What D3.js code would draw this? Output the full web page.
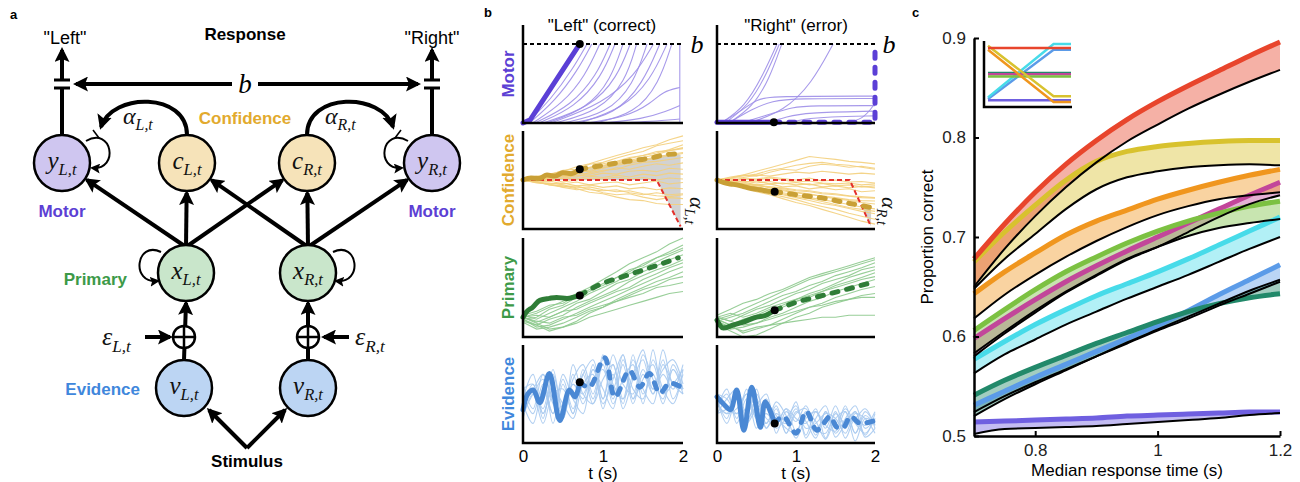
<!DOCTYPE html>
<html>
<head>
<meta charset="utf-8">
<script src="https://cdn.jsdelivr.net/npm/d3@7"></script>
<style>
  body { margin: 0; background: #fff; }
  svg { display: block; }
</style>
</head>
<body>
<svg id="fig" width="1300" height="482"></svg>
<script>
// ---------- data ----------

// panel b: time grids (s)
const tCoarse = [0, 0.17, 0.33, 0.5, 0.67, 0.83, 1, 1.17, 1.33, 1.5, 1.67, 1.83, 2];
const tFine = [0, 0.125, 0.25, 0.375, 0.5, 0.625, 0.75, 0.875, 1, 1.125, 1.25, 1.375, 1.5, 1.625, 1.75, 1.875, 2];

// motor traces as [t, activity] pairs (threshold b = 1)
const motorLeftThin = [
  [[0.05,0],[0.35,0.3],[0.62,0.68],[0.8,1]],
  [[0.08,0],[0.4,0.28],[0.68,0.66],[0.86,1]],
  [[0.12,0],[0.5,0.25],[0.78,0.6],[0.96,1]],
  [[0.15,0],[0.6,0.22],[0.92,0.6],[1.09,1]],
  [[0.2,0],[0.65,0.2],[0.98,0.58],[1.15,1]],
  [[0.3,0],[0.8,0.18],[1.1,0.55],[1.25,1]],
  [[0.25,0],[0.85,0.2],[1.18,0.58],[1.34,1]],
  [[0.4,0],[0.95,0.15],[1.28,0.52],[1.42,1]],
  [[0.5,0],[1.05,0.12],[1.38,0.48],[1.55,1]],
  [[0.35,0],[1.0,0.25],[1.4,0.6],[1.63,1]],
  [[0.6,0],[1.15,0.1],[1.5,0.5],[1.71,1]],
  [[0.7,0],[1.25,0.18],[1.6,0.55],[1.8,1]],
  [[0.9,0],[1.4,0.12],[1.7,0.5],[1.86,1]],
  [[0.8,0],[1.3,0.08],[1.6,0.25],[1.75,0.4],[1.96,0.45]],
  [[1.0,0],[1.5,0.05],[1.8,0.15],[1.96,0.22]],
  [[1.2,0],[1.6,0.02],[1.96,0.05]],
  [[1.96,0],[1.96,1]]
];
const motorLeftThick = [[0,0],[0.09,0.04],[0.71,1]];
const motorLeftDash = [];
const motorRightThin = [
  [[0.05,0],[0.35,0.2],[0.58,0.6],[0.76,1]],
  [[0.1,0],[0.4,0.22],[0.62,0.6],[0.79,1]],
  [[0.15,0],[0.45,0.2],[0.66,0.55],[0.82,1]],
  [[0.4,0],[0.85,0.15],[1.2,0.5],[1.47,1]],
  [[0.05,0],[0.3,0.15],[0.5,0.3],[0.7,0.34],[2.0,0.34]],
  [[0.15,0],[0.45,0.18],[0.7,0.28],[1.0,0.31],[2.0,0.31]],
  [[0.3,0],[0.7,0.12],[0.95,0.2],[1.2,0.22],[2.0,0.22]],
  [[0.6,0],[0.9,0.08],[1.1,0.13],[2.0,0.15]],
  [[0.9,0],[1.1,0.05],[1.4,0.08],[2.0,0.09]],
  [[1.6,0],[1.85,0.04],[2.0,0.25]]
];
const motorRightThick = [[0,0.01],[0.72,0.01]];
const motorRightDash = [[0.72,0.01],[2,0.01],[2,1]];

// confidence (values on tCoarse)
const confLeftThin = [
  [0, 0.05, 0.12, 0.18, 0.27, 0.33, 0.42, 0.5, 0.57, 0.66, 0.72, 0.82, 0.9],
  [0, 0.08, 0.1, 0.2, 0.22, 0.32, 0.36, 0.45, 0.52, 0.58, 0.7, 0.75, 0.8],
  [0, 0.03, 0.09, 0.14, 0.2, 0.25, 0.33, 0.38, 0.46, 0.5, 0.58, 0.6, 0.66],
  [0, 0.06, 0.05, 0.12, 0.18, 0.17, 0.25, 0.32, 0.38, 0.42, 0.47, 0.52, 0.56],
  [0, -0.03, 0.04, 0.08, 0.06, 0.15, 0.2, 0.22, 0.3, 0.36, 0.38, 0.42, 0.46],
  [0, 0.04, 0.02, 0.08, 0.14, 0.12, 0.18, 0.25, 0.22, 0.28, 0.33, 0.3, 0.35],
  [0, -0.02, 0.05, 0.03, 0.1, 0.08, 0.14, 0.12, 0.18, 0.2, 0.17, 0.24, 0.22],
  [0, 0.02, -0.03, 0.04, 0.02, 0.08, 0.05, 0.1, 0.06, 0.12, 0.09, 0.14, 0.12],
  [0, -0.04, -0.02, -0.08, -0.04, -0.1, -0.06, -0.04, -0.1, -0.06, -0.02, -0.08, -0.05],
  [0, -0.05, -0.08, -0.06, -0.12, -0.1, -0.15, -0.12, -0.18, -0.15, -0.2, -0.16, -0.18],
  [0, -0.04, -0.1, -0.14, -0.12, -0.2, -0.22, -0.2, -0.26, -0.3, -0.26, -0.3, -0.28],
  [0, -0.06, -0.08, -0.15, -0.2, -0.18, -0.26, -0.3, -0.28, -0.35, -0.4, -0.36, -0.38],
  [0, -0.03, -0.1, -0.12, -0.18, -0.25, -0.28, -0.35, -0.4, -0.42, -0.48, -0.5, -0.5],
  [0, 0.05, 0.1, 0.13, 0.2, 0.26, 0.3, 0.36, 0.44, 0.5, 0.55, 0.62, 0.72],
  [0, 0.03, 0.08, 0.06, 0.14, 0.2, 0.24, 0.3, 0.34, 0.4, 0.44, 0.5, 0.54],
  [0, -0.02, 0.02, -0.04, 0.0, 0.04, 0.02, 0.06, 0.02, 0.05, 0.0, 0.04, 0.02],
  [0, 0.04, 0.08, 0.14, 0.16, 0.24, 0.28, 0.34, 0.4, 0.46, 0.52, 0.6, 0.64],
  [0, -0.05, -0.06, -0.1, -0.16, -0.14, -0.2, -0.24, -0.22, -0.28, -0.32, -0.34, -0.3]
];
const confLeftThick = [[0,0],[0.1,0.04],[0.2,0.03],[0.3,0.1],[0.4,0.08],[0.5,0.15],[0.6,0.13],[0.71,0.22]];
const confLeftDash = [[0.71,0.22],[1.0,0.3],[1.3,0.38],[1.6,0.45],[1.8,0.52],[1.92,0.53],[2.0,0.49]];
const alphaLeft = [[0,0],[1.67,0],[1.97,-0.95]];
const confRightThin = [
  [0, 0.06, 0.1, 0.18, 0.25, 0.32, 0.4, 0.48, 0.45, 0.42, 0.38, 0.36, 0.33],
  [0, 0.04, 0.1, 0.08, 0.16, 0.22, 0.2, 0.28, 0.32, 0.3, 0.26, 0.28, 0.24],
  [0, 0.03, 0.05, 0.1, 0.08, 0.12, 0.16, 0.14, 0.18, 0.15, 0.12, 0.14, 0.12],
  [0, -0.02, 0.04, 0.02, 0.06, 0.03, 0.0, 0.04, -0.02, 0.0, -0.04, -0.03, -0.06],
  [0, -0.04, -0.02, -0.06, -0.03, -0.08, -0.05, -0.1, -0.07, -0.12, -0.1, -0.14, -0.12],
  [0, 0.02, -0.04, -0.02, -0.08, -0.06, -0.1, -0.08, -0.14, -0.12, -0.16, -0.13, -0.16],
  [0, -0.05, -0.04, -0.1, -0.08, -0.14, -0.12, -0.18, -0.15, -0.2, -0.18, -0.24, -0.22],
  [0, -0.04, -0.08, -0.12, -0.14, -0.18, -0.22, -0.24, -0.28, -0.3, -0.33, -0.36, -0.37],
  [0, -0.06, -0.1, -0.14, -0.2, -0.22, -0.26, -0.3, -0.32, -0.36, -0.4, -0.42, -0.43],
  [0, -0.03, -0.08, -0.1, -0.16, -0.2, -0.25, -0.28, -0.34, -0.38, -0.42, -0.46, -0.49],
  [0, -0.05, -0.1, -0.16, -0.2, -0.26, -0.3, -0.36, -0.4, -0.45, -0.5, -0.55, -0.59],
  [0, -0.04, -0.12, -0.18, -0.24, -0.3, -0.36, -0.42, -0.48, -0.52, -0.58, -0.64, -0.69],
  [0, -0.07, -0.14, -0.2, -0.28, -0.34, -0.4, -0.48, -0.54, -0.6, -0.68, -0.74, -0.8],
  [0, -0.06, -0.14, -0.24, -0.3, -0.38, -0.46, -0.52, -0.6, -0.68, -0.76, -0.84, -0.9],
  [0, 0.04, 0.08, 0.12, 0.2, 0.24, 0.3, 0.34, 0.36, 0.32, 0.3, 0.26, 0.22],
  [0, -0.02, 0.02, 0.0, 0.04, 0.0, -0.04, -0.02, -0.06, -0.08, -0.06, -0.1, -0.08],
  [0, -0.04, -0.08, -0.1, -0.14, -0.16, -0.2, -0.22, -0.26, -0.28, -0.32, -0.34, -0.36],
  [0, -0.05, -0.12, -0.16, -0.22, -0.28, -0.34, -0.38, -0.44, -0.5, -0.56, -0.6, -0.64]
];
const confRightThick = [[0,0],[0.08,-0.05],[0.17,-0.08],[0.25,-0.1],[0.35,-0.14],[0.45,-0.18],[0.55,-0.2],[0.65,-0.23],[0.73,-0.24]];
const confRightDash = [[0.73,-0.24],[1.0,-0.3],[1.34,-0.37],[1.68,-0.48],[1.85,-0.53],[2.0,-0.58]];
const alphaRight = [[0,0],[1.68,0],[1.95,-0.95]];

// primary (values on tCoarse)
const primLeftThin = [
  [0.2, 0.24, 0.3, 0.36, 0.44, 0.5, 0.58, 0.66, 0.74, 0.8, 0.86, 0.94, 1.0],
  [0.18, 0.2, 0.28, 0.32, 0.4, 0.48, 0.52, 0.6, 0.66, 0.74, 0.8, 0.86, 0.93],
  [0.22, 0.18, 0.24, 0.3, 0.36, 0.44, 0.5, 0.56, 0.64, 0.7, 0.76, 0.82, 0.88],
  [0.2, 0.15, 0.2, 0.26, 0.34, 0.38, 0.46, 0.54, 0.58, 0.66, 0.72, 0.78, 0.83],
  [0.16, 0.12, 0.18, 0.22, 0.3, 0.36, 0.42, 0.48, 0.56, 0.62, 0.68, 0.72, 0.78],
  [0.2, 0.22, 0.2, 0.26, 0.28, 0.34, 0.4, 0.46, 0.5, 0.58, 0.64, 0.7, 0.75],
  [0.18, 0.1, 0.12, 0.18, 0.24, 0.3, 0.36, 0.42, 0.48, 0.54, 0.6, 0.66, 0.71],
  [0.2, 0.14, 0.08, 0.1, 0.16, 0.24, 0.3, 0.38, 0.44, 0.5, 0.56, 0.6, 0.66],
  [0.15, 0.08, 0.1, 0.14, 0.2, 0.26, 0.3, 0.36, 0.42, 0.48, 0.52, 0.58, 0.61],
  [0.2, 0.16, 0.14, 0.2, 0.22, 0.28, 0.32, 0.36, 0.4, 0.44, 0.5, 0.52, 0.55],
  [0.18, 0.12, 0.06, 0.1, 0.14, 0.2, 0.24, 0.28, 0.32, 0.36, 0.4, 0.44, 0.46],
  [0.22, 0.26, 0.32, 0.34, 0.42, 0.46, 0.54, 0.6, 0.68, 0.72, 0.8, 0.84, 0.9]
];
const primLeftThick = [[0,0.2],[0.04,0.25],[0.12,0.3],[0.21,0.37],[0.33,0.39],[0.42,0.4],[0.55,0.39],[0.71,0.42]];
const primLeftDash = [[0.71,0.42],[0.96,0.53],[1.25,0.61],[1.59,0.7],[1.94,0.8]];
const primRightThin = [
  [0.18, 0.22, 0.28, 0.34, 0.4, 0.46, 0.52, 0.58, 0.62, 0.66, 0.7, 0.74, 0.78],
  [0.16, 0.2, 0.24, 0.3, 0.36, 0.42, 0.46, 0.52, 0.56, 0.62, 0.66, 0.7, 0.75],
  [0.2, 0.16, 0.22, 0.28, 0.32, 0.38, 0.44, 0.48, 0.54, 0.58, 0.62, 0.68, 0.71],
  [0.14, 0.1, 0.16, 0.2, 0.26, 0.32, 0.38, 0.44, 0.48, 0.54, 0.6, 0.64, 0.68],
  [0.18, 0.12, 0.18, 0.22, 0.28, 0.3, 0.36, 0.4, 0.46, 0.52, 0.56, 0.6, 0.65],
  [0.2, 0.24, 0.2, 0.24, 0.3, 0.34, 0.38, 0.42, 0.46, 0.5, 0.54, 0.58, 0.61],
  [0.15, 0.08, 0.1, 0.14, 0.2, 0.24, 0.3, 0.36, 0.4, 0.46, 0.5, 0.54, 0.58],
  [0.18, 0.12, 0.04, 0.08, 0.12, 0.18, 0.24, 0.3, 0.34, 0.4, 0.44, 0.48, 0.51],
  [0.12, 0.06, 0.0, 0.02, 0.08, 0.14, 0.2, 0.24, 0.3, 0.34, 0.38, 0.42, 0.44],
  [0.2, 0.16, 0.12, 0.14, 0.18, 0.22, 0.26, 0.3, 0.32, 0.36, 0.38, 0.4, 0.4],
  [0.16, 0.1, 0.06, 0.1, 0.12, 0.14, 0.16, 0.18, 0.2, 0.2, 0.22, 0.22, 0.22],
  [0.22, 0.28, 0.34, 0.38, 0.44, 0.48, 0.54, 0.6, 0.64, 0.68, 0.72, 0.76, 0.8]
];
const primRightThick = [[0,0.17],[0.08,0.09],[0.2,0.12],[0.33,0.15],[0.5,0.2],[0.62,0.22],[0.73,0.27]];
const primRightDash = [[0.73,0.27],[1.0,0.35],[1.34,0.42],[1.68,0.49],[2.0,0.56]];

// evidence (values on tFine)
const evidLeftThin = [
  [0.45, 0.7, 0.3, 0.6, 0.25, 0.65, 0.8, 0.5, 0.85, 0.55, 0.9, 0.45, 0.75, 0.55, 0.85, 0.45, 0.7],
  [0.4, 0.2, 0.55, 0.3, 0.65, 0.35, 0.7, 0.85, 0.45, 0.8, 0.45, 0.85, 0.55, 0.4, 0.8, 0.6, 0.5],
  [0.55, 0.6, 0.25, 0.7, 0.35, 0.6, 0.5, 0.75, 0.45, 0.9, 0.6, 0.5, 0.9, 0.65, 0.45, 0.8, 0.55],
  [0.3, 0.5, 0.65, 0.2, 0.6, 0.3, 0.75, 0.45, 0.8, 0.4, 0.65, 0.8, 0.4, 0.85, 0.55, 0.4, 0.75],
  [0.6, 0.35, 0.7, 0.45, 0.3, 0.7, 0.4, 0.65, 0.75, 0.45, 0.8, 0.4, 0.7, 0.5, 0.95, 0.6, 0.55],
  [0.4, 0.55, 0.35, 0.75, 0.3, 0.6, 0.45, 0.8, 0.35, 0.7, 0.4, 0.9, 0.5, 0.7, 0.4, 0.75, 0.5],
  [0.25, 0.5, 0.2, 0.5, 0.55, 0.3, 0.7, 0.4, 0.65, 0.8, 0.35, 0.65, 0.85, 0.5, 0.7, 0.55, 0.8],
  [0.5, 0.3, 0.6, 0.3, 0.7, 0.45, 0.3, 0.75, 0.55, 0.35, 0.85, 0.55, 0.45, 0.95, 0.5, 0.75, 0.55],
  [0.45, 0.55, 0.7, 0.4, 0.25, 0.8, 0.5, 0.4, 0.9, 0.6, 0.45, 0.7, 0.95, 0.55, 0.75, 0.85, 0.6],
  [0.35, 0.6, 0.3, 0.55, 0.4, 0.25, 0.6, 0.7, 0.4, 0.65, 0.9, 0.45, 0.65, 0.8, 0.5, 0.6, 0.75]
];
const evidLeftThick = [[0,0.34],[0.06,0.5],[0.13,0.54],[0.21,0.41],[0.33,0.71],[0.46,0.23],[0.58,0.54],[0.65,0.47],[0.71,0.62]];
const evidLeftDash = [[0.71,0.62],[0.83,0.57],[1.02,0.87],[1.15,0.47],[1.33,0.74],[1.46,0.57],[1.58,0.71],[1.71,0.51],[1.83,0.61],[1.98,0.57]];
const evidRightThin = [
  [0.45, 0.25, 0.55, 0.3, 0.5, 0.25, 0.2, 0.35, 0.12, 0.3, 0.08, 0.32, 0.15, 0.38, 0.1, 0.28, 0.18],
  [0.35, 0.5, 0.25, 0.55, 0.25, 0.45, 0.15, 0.25, 0.38, 0.08, 0.32, 0.15, 0.38, 0.15, 0.32, 0.08, 0.3],
  [0.4, 0.3, 0.5, 0.2, 0.45, 0.2, 0.38, 0.1, 0.32, 0.22, 0.05, 0.32, 0.1, 0.25, 0.38, 0.15, 0.25],
  [0.5, 0.35, 0.3, 0.5, 0.15, 0.4, 0.28, 0.15, 0.1, 0.32, 0.22, 0.04, 0.25, 0.32, 0.1, 0.32, 0.18],
  [0.3, 0.45, 0.55, 0.25, 0.38, 0.5, 0.1, 0.32, 0.22, 0.38, 0.15, 0.1, 0.32, 0.05, 0.25, 0.18, 0.32],
  [0.45, 0.2, 0.45, 0.28, 0.55, 0.15, 0.3, 0.22, 0.42, 0.05, 0.25, 0.38, 0.06, 0.2, 0.32, 0.06, 0.15],
  [0.35, 0.55, 0.2, 0.45, 0.28, 0.2, 0.42, 0.28, 0.05, 0.25, 0.32, 0.18, 0.12, 0.32, 0.02, 0.25, 0.2],
  [0.4, 0.3, 0.35, 0.5, 0.25, 0.3, 0.2, 0.35, 0.25, 0.2, 0.35, 0.05, 0.3, 0.2, 0.25, 0.35, 0.15],
  [0.5, 0.45, 0.3, 0.35, 0.4, 0.15, 0.35, 0.1, 0.3, 0.35, 0.15, 0.25, 0.2, 0.35, 0.2, 0.1, 0.25],
  [0.3, 0.35, 0.45, 0.2, 0.35, 0.4, 0.25, 0.2, 0.35, 0.15, 0.2, 0.3, 0.25, 0.1, 0.3, 0.25, 0.1]
];
const evidRightThick = [[0,0.47],[0.08,0.4],[0.17,0.34],[0.25,0.54],[0.34,0.13],[0.44,0.57],[0.55,0.16],[0.61,0.42],[0.73,0.2]];
const evidRightDash = [[0.73,0.2],[0.84,0.27],[1.0,0.1],[1.13,0.32],[1.26,0.13],[1.35,0.2],[1.43,0.27],[1.52,0.16],[1.6,0.16],[1.69,0.27],[1.81,0.2],[2.0,0.23]];

// panel c: proportion correct vs median RT
const conditions = ["red", "yellow", "orange", "lime", "magenta", "cyan", "darkgreen", "blue", "purple"];
const rtGrid = [0.7, 0.75, 0.8, 0.85, 0.9, 0.95, 1.0, 1.05, 1.1, 1.15, 1.2];
const pcColoured = [
  [0.678, 0.713, 0.745, 0.773, 0.797, 0.818, 0.836, 0.852, 0.867, 0.882, 0.896],
  [0.675, 0.705, 0.732, 0.757, 0.776, 0.786, 0.791, 0.794, 0.796, 0.797, 0.797],
  [0.643, 0.665, 0.684, 0.702, 0.716, 0.727, 0.738, 0.747, 0.755, 0.762, 0.768],
  [0.606, 0.627, 0.647, 0.665, 0.68, 0.694, 0.706, 0.716, 0.724, 0.731, 0.736],
  [0.598, 0.618, 0.637, 0.655, 0.671, 0.686, 0.7, 0.714, 0.728, 0.742, 0.755],
  [0.577, 0.595, 0.612, 0.627, 0.641, 0.653, 0.665, 0.678, 0.692, 0.706, 0.72],
  [0.541, 0.556, 0.569, 0.581, 0.593, 0.604, 0.615, 0.625, 0.633, 0.639, 0.643],
  [0.531, 0.545, 0.559, 0.572, 0.585, 0.598, 0.611, 0.626, 0.642, 0.657, 0.672],
  [0.514, 0.515, 0.516, 0.517, 0.518, 0.52, 0.521, 0.522, 0.523, 0.524, 0.524]
];
const pcBlack = [
  [0.65, 0.688, 0.721, 0.75, 0.775, 0.796, 0.813, 0.829, 0.843, 0.856, 0.868],
  [0.648, 0.678, 0.703, 0.728, 0.748, 0.76, 0.766, 0.77, 0.772, 0.773, 0.772],
  [0.618, 0.642, 0.662, 0.68, 0.696, 0.71, 0.722, 0.731, 0.738, 0.742, 0.745],
  [0.583, 0.605, 0.626, 0.645, 0.662, 0.678, 0.69, 0.701, 0.709, 0.714, 0.718],
  [0.58, 0.603, 0.624, 0.644, 0.661, 0.677, 0.69, 0.705, 0.72, 0.733, 0.742],
  [0.563, 0.582, 0.597, 0.612, 0.625, 0.638, 0.65, 0.662, 0.675, 0.688, 0.7],
  [0.52, 0.537, 0.552, 0.566, 0.58, 0.594, 0.607, 0.62, 0.633, 0.646, 0.657],
  [0.524, 0.54, 0.554, 0.567, 0.58, 0.593, 0.606, 0.618, 0.631, 0.643, 0.655],
  [0.502, 0.507, 0.508, 0.509, 0.51, 0.512, 0.514, 0.516, 0.518, 0.521, 0.523]
];
// inset: normalised level before and after the switch
const insetBefore = [0.93, 0.97, 0.9, 0.44, 0.48, 0.08, 0.5, 0.05, 0.03];
const insetAfter = [0.93, 0.1, 0.0, 0.44, 0.48, 1.0, 0.5, 0.9, 0.03];
const insetSteps = [0, 0.79, 1];

// ---------- styles ----------
const SANS = "'Liberation Sans', Arial, Helvetica, sans-serif";
const SERIF = "'Liberation Serif', 'DejaVu Serif', serif";
const condColor = {
  red: "#e8452c", yellow: "#d8c22e", orange: "#f0961e", lime: "#7cc142", magenta: "#c2469a",
  cyan: "#47dbe9", darkgreen: "#22896a", blue: "#5b9be8", purple: "#6f5fe0"
};
const rowStyle = {
  motor: { thin: "#9d8ee8", thick: "#5b3fd6", label: "Motor" },
  conf: { thin: "#f3cf7c", thick: "#c9a036", label: "Confidence" },
  prim: { thin: "#8dc98d", thick: "#2f7d37", label: "Primary" },
  evid: { thin: "#a9caef", thick: "#4a88d4", label: "Evidence" }
};
const labelColor = { motor: "#5c3fd4", conf: "#e2aa2e", prim: "#3d9a48", evid: "#3f87dc" };

const svg = d3.select("#fig");
svg.append("rect").attr("width", 1300).attr("height", 482).attr("fill", "#fff");
const defs = svg.append("defs");

function marker(id, size) {
  defs.append("marker")
    .attr("id", id)
    .attr("viewBox", "0 0 10 10")
    .attr("refX", 8).attr("refY", 5)
    .attr("markerWidth", size).attr("markerHeight", size)
    .attr("markerUnits", "userSpaceOnUse")
    .attr("orient", "auto")
    .append("path").attr("d", "M0,0 L10,5 L0,10 L2,5 z").attr("fill", "#000");
}
marker("arr", 15);
marker("arrS", 10);

function mathText(g, x, y, main, sub, size, anchor = "middle") {
  const t = g.append("text")
    .attr("x", x).attr("y", y)
    .attr("text-anchor", anchor)
    .attr("font-family", SERIF)
    .attr("font-style", "italic")
    .attr("font-size", size)
    .attr("fill", "#111");
  t.append("tspan").text(main);
  t.append("tspan").attr("font-size", size * 0.66).attr("dy", size * 0.25).text(sub);
  return t;
}

function plainText(g, x, y, str, size, opts = {}) {
  return g.append("text")
    .attr("x", x).attr("y", y)
    .attr("text-anchor", opts.anchor || "middle")
    .attr("font-family", SANS)
    .attr("font-size", size)
    .attr("font-weight", opts.bold ? "bold" : "normal")
    .attr("fill", opts.color || "#000")
    .text(str);
}

// ---------- panel a ----------
const A = svg.append("g");
plainText(A, 10, 19, "a", 13, { anchor: "start", bold: true });

const R = 28;
const nodes = {
  yL: { x: 62, y: 163, fill: "#cfc6f0", main: "y", sub: "L,t" },
  cL: { x: 187, y: 163, fill: "#f6e3b9", main: "c", sub: "L,t" },
  cR: { x: 307, y: 163, fill: "#f6e3b9", main: "c", sub: "R,t" },
  yR: { x: 432, y: 163, fill: "#cfc6f0", main: "y", sub: "R,t" },
  xL: { x: 186, y: 273, fill: "#c9e6cb", main: "x", sub: "L,t" },
  xR: { x: 308, y: 273, fill: "#c9e6cb", main: "x", sub: "R,t" },
  vL: { x: 184, y: 388, fill: "#bcd5f3", main: "ν", sub: "L,t" },
  vR: { x: 308, y: 388, fill: "#bcd5f3", main: "ν", sub: "R,t" }
};

function line(g, x1, y1, x2, y2, w, mk) {
  const l = g.append("line")
    .attr("x1", x1).attr("y1", y1).attr("x2", x2).attr("y2", y2)
    .attr("stroke", "#000").attr("stroke-width", w);
  if (mk) l.attr("marker-end", `url(#${mk})`);
  return l;
}
function edge(from, n, pad = 2) {
  const dx = from[0] - n.x, dy = from[1] - n.y;
  const d = Math.hypot(dx, dy);
  return [n.x + dx / d * (R + pad), n.y + dy / d * (R + pad)];
}

// primary -> motor / confidence
[["xL", ["yL", "cL", "cR"]], ["xR", ["cL", "cR", "yR"]]].forEach(([src, targets]) => {
  const s = [nodes[src].x, nodes[src].y - R + 2];
  targets.forEach(t => {
    const e = edge(s, nodes[t]);
    line(A, s[0], s[1], e[0], e[1], 4, "arr");
  });
});

// evidence -> sum -> primary
["L", "R"].forEach(side => {
  const v = nodes["v" + side], x = nodes["x" + side];
  line(A, v.x, v.y - R, x.x, x.y + R + 2, 4, "arr");
});

// response outputs with gates
[nodes.yL, nodes.yR].forEach(n => {
  line(A, n.x, n.y - R, n.x, 88, 4);
  line(A, n.x, 80, n.x, 50, 4, "arr");
  line(A, n.x - 8, 88, n.x + 8, 88, 3);
  line(A, n.x - 8, 80, n.x + 8, 80, 3);
});

// b double arrow
line(A, 232, 84, 76, 84, 4, "arr");
line(A, 258, 84, 418, 84, 4, "arr");
A.append("text").attr("x", 245).attr("y", 93).attr("text-anchor", "middle")
  .attr("font-family", SERIF).attr("font-style", "italic").attr("font-size", 27).text("b");

// confidence -> motor arcs
A.append("path").attr("d", "M187,135 C187,92 112,92 101,127")
  .attr("fill", "none").attr("stroke", "#000").attr("stroke-width", 4).attr("marker-end", "url(#arr)");
A.append("path").attr("d", "M307,135 C307,92 382,92 393,127")
  .attr("fill", "none").attr("stroke", "#000").attr("stroke-width", 4).attr("marker-end", "url(#arr)");
mathText(A, 123, 124, "α", "L,t", 24, "start");
mathText(A, 325, 124, "α", "R,t", 24, "start");

// self loops
const loops = [
  "M86,141 C112,126 120,170 92,168",
  "M408,141 C382,126 374,170 402,168",
  "M161,252 C136,240 130,284 158,281",
  "M333,252 C358,240 364,284 336,281"
];
loops.forEach(d => A.append("path").attr("d", d).attr("fill", "none")
  .attr("stroke", "#000").attr("stroke-width", 2).attr("marker-end", "url(#arrS)"));
// gates on motor loops
line(A, 93, 130, 99, 138, 1.5);
line(A, 401, 130, 395, 138, 1.5);

// stimulus
line(A, 247, 448, 209, 410, 4, "arr");
line(A, 247, 448, 285, 410, 4, "arr");

// noise inputs
line(A, 145, 337, 170, 337, 4, "arr");
line(A, 349, 337, 324, 337, 4, "arr");
mathText(A, 102, 345, "ε", "L,t", 26, "start");
mathText(A, 355, 345, "ε", "R,t", 26, "start");

// sum nodes
[nodes.vL, nodes.vR].forEach(v => {
  const cy = 337;
  A.append("circle").attr("cx", v.x).attr("cy", cy).attr("r", 11)
    .attr("fill", "#fff").attr("stroke", "#000").attr("stroke-width", 2.5);
  line(A, v.x - 11, cy, v.x + 11, cy, 2.5);
  line(A, v.x, cy - 11, v.x, cy + 11, 2.5);
});

// nodes
Object.values(nodes).forEach(n => {
  A.append("circle").attr("cx", n.x).attr("cy", n.y).attr("r", R)
    .attr("fill", n.fill).attr("stroke", "#000").attr("stroke-width", 2.5);
  mathText(A, n.x, n.y + 6, n.main, n.sub, 25);
});

plainText(A, 65, 44, "\"Left\"", 18);
plainText(A, 432, 44, "\"Right\"", 18);
plainText(A, 245, 40, "Response", 17, { bold: true });
plainText(A, 245, 124, "Confidence", 17, { bold: true, color: labelColor.conf });
plainText(A, 62, 217, "Motor", 17, { bold: true, color: labelColor.motor });
plainText(A, 432, 217, "Motor", 17, { bold: true, color: labelColor.motor });
plainText(A, 127, 285, "Primary", 17, { bold: true, color: labelColor.prim, anchor: "end" });
plainText(A, 140, 395, "Evidence", 17, { bold: true, color: labelColor.evid, anchor: "end" });
plainText(A, 247, 467, "Stimulus", 17, { bold: true });

// ---------- panel b ----------
const B = svg.append("g");
plainText(B, 484, 17, "b", 13, { anchor: "start", bold: true });

const bCols = [{ x0: 523, x1: 683 }, { x0: 717, x1: 875 }];
const bRows = [
  { key: "motor", top: 25, bottom: 123, domain: [0, 1.24] },
  { key: "conf", top: 131, bottom: 229, domain: [-1, 1] },
  { key: "prim", top: 238, bottom: 337, domain: [0, 1] },
  { key: "evid", top: 345, bottom: 443, domain: [0, 1] }
];

const cellData = {
  motor: [
    { pairs: motorLeftThin, thick: motorLeftThick, dash: motorLeftDash, dot: [0.71, 1] },
    { pairs: motorRightThin, thick: motorRightThick, dash: motorRightDash, dot: [0.72, 0.01] }
  ],
  conf: [
    { values: confLeftThin, t: tCoarse, thick: confLeftThick, dash: confLeftDash, dot: [0.71, 0.22], alpha: alphaLeft },
    { values: confRightThin, t: tCoarse, thick: confRightThick, dash: confRightDash, dot: [0.73, -0.24], alpha: alphaRight }
  ],
  prim: [
    { values: primLeftThin, t: tCoarse, thick: primLeftThick, dash: primLeftDash, dot: [0.71, 0.42] },
    { values: primRightThin, t: tCoarse, thick: primRightThick, dash: primRightDash, dot: [0.73, 0.27] }
  ],
  evid: [
    { values: evidLeftThin, t: tFine, thick: evidLeftThick, dash: evidLeftDash, dot: [0.71, 0.62] },
    { values: evidRightThin, t: tFine, thick: evidRightThick, dash: evidRightDash, dot: [0.73, 0.2] }
  ]
};

const curveFor = { motor: d3.curveBasis, conf: d3.curveLinear, prim: d3.curveLinear, evid: d3.curveCatmullRom.alpha(0.5) };
const thickCurveFor = { motor: d3.curveLinear, conf: d3.curveMonotoneX, prim: d3.curveMonotoneX, evid: d3.curveCatmullRom.alpha(0.5) };

bCols.forEach((col, ci) => {
  const x = d3.scaleLinear().domain([0, 2]).range([col.x0, col.x1]);
  bRows.forEach((row, ri) => {
    const y = d3.scaleLinear().domain(row.domain).range([row.bottom, row.top]);
    const st = rowStyle[row.key];
    const cd = cellData[row.key][ci];
    const g = B.append("g");
    const ln = d3.line().x(d => x(d[0])).y(d => y(d[1]));

    if (cd.alpha) {
      const id = `clip-alpha-${ci}`;
      defs.append("clipPath").attr("id", id).append("path")
        .attr("d", d3.area().x(d => x(d[0])).y0(row.top - 5).y1(d => y(d[1]))(cd.alpha));
      const all = cd.thick.concat(cd.dash.slice(1));
      g.append("path").attr("clip-path", `url(#${id})`).attr("fill", "#d2d2d2")
        .attr("d", d3.area().x(d => x(d[0])).y0(row.bottom).y1(d => y(d[1])).curve(d3.curveMonotoneX)(all));
    }

    const traces = cd.pairs ? cd.pairs : cd.values.map(v => v.map((val, i) => [cd.t[i], val]));
    g.selectAll(".thin").data(traces).enter().append("path")
      .attr("fill", "none")
      .attr("stroke", st.thin)
      .attr("stroke-width", 1.1)
      .attr("opacity", 0.9)
      .attr("d", ln.curve(curveFor[row.key]));

    if (row.key === "motor") {
      g.append("line").attr("x1", col.x0).attr("x2", col.x1).attr("y1", y(1)).attr("y2", y(1))
        .attr("stroke", "#000").attr("stroke-width", 2).attr("stroke-dasharray", "4,3");
      B.append("text").attr("x", col.x1 + 14).attr("y", y(1) + 9).attr("text-anchor", "middle")
        .attr("font-family", SERIF).attr("font-style", "italic").attr("font-size", 26).text("b");
    }
    if (cd.alpha) {
      g.append("path").attr("fill", "none").attr("stroke", "#e4302a").attr("stroke-width", 2)
        .attr("stroke-dasharray", "5,3").attr("d", d3.line().x(d => x(d[0])).y(d => y(d[1]))(cd.alpha));
      const lab = B.append("g").attr("transform", `translate(${col.x1 + 7},${row.bottom - 32}) rotate(90)`);
      mathText(lab, 0, 0, "α", ci === 0 ? "L,t" : "R,t", 22, "start");
    }

    const thickLine = d3.line().x(d => x(d[0])).y(d => y(d[1])).curve(thickCurveFor[row.key]);
    if (cd.dash.length) {
      g.append("path").attr("fill", "none").attr("stroke", st.thick).attr("stroke-width", 5)
        .attr("stroke-linecap", "round").attr("stroke-dasharray", "6,9").attr("d", thickLine(cd.dash));
    }
    g.append("path").attr("fill", "none").attr("stroke", st.thick).attr("stroke-width", 5)
      .attr("stroke-linecap", "round").attr("d", thickLine(cd.thick));
    g.append("circle").attr("cx", x(cd.dot[0])).attr("cy", y(cd.dot[1])).attr("r", 4).attr("fill", "#000");

    // axes
    g.append("path").attr("fill", "none").attr("stroke", "#000").attr("stroke-width", 2.5)
      .attr("d", `M${col.x0},${row.top} V${row.bottom} H${col.x1}`);

    if (ci === 0) {
      B.append("text")
        .attr("transform", `translate(${col.x0 - 9},${(row.top + row.bottom) / 2}) rotate(-90)`)
        .attr("text-anchor", "middle").attr("font-family", SANS).attr("font-weight", "bold")
        .attr("font-size", 17).attr("fill", labelColor[row.key]).text(st.label);
    }
    if (ri === bRows.length - 1) {
      const ax = g.append("g").attr("transform", `translate(0,${row.bottom})`)
        .call(d3.axisBottom(x).tickValues([0, 1, 2]).tickSize(0).tickPadding(7).tickFormat(d3.format("d")));
      ax.select(".domain").remove();
      ax.selectAll("text").attr("font-family", SANS).attr("font-size", 17).attr("fill", "#000");
      plainText(B, (col.x0 + col.x1) / 2, 479, "t (s)", 17);
    }
  });
});
plainText(B, 602, 31, "\"Left\" (correct)", 17);
plainText(B, 796, 31, "\"Right\" (error)", 17);

// ---------- panel c ----------
const C = svg.append("g");
plainText(C, 912, 17, "c", 13, { anchor: "start", bold: true });

const xC = d3.scaleLinear().domain([0.7, 1.2]).range([974, 1280]);
const yC = d3.scaleLinear().domain([0.5, 0.9]).range([436, 38]);
const cLine = d3.line().x((d, i) => xC(rtGrid[i])).y(d => yC(d)).curve(d3.curveMonotoneX);
const cArea = d3.area()
  .x(d => xC(d.rt)).y0(d => yC(d.lo)).y1(d => yC(d.hi)).curve(d3.curveMonotoneX);

const bands = conditions.map((c, i) => rtGrid.map((rt, j) => ({ rt, hi: pcColoured[i][j], lo: pcBlack[i][j] })));
const order = d3.range(conditions.length).reverse();

order.forEach(i => {
  C.append("path").attr("d", cArea(bands[i]))
    .attr("fill", condColor[conditions[i]]).attr("fill-opacity", 0.42);
});
order.forEach(i => {
  C.append("path").attr("d", cLine(pcColoured[i]))
    .attr("fill", "none").attr("stroke", condColor[conditions[i]]).attr("stroke-width", 5);
});
order.forEach(i => {
  C.append("path").attr("d", cLine(pcBlack[i]))
    .attr("fill", "none").attr("stroke", "#000").attr("stroke-width", 2);
});

const yAx = C.append("g").attr("transform", "translate(974,0)")
  .call(d3.axisLeft(yC).tickValues([0.5, 0.6, 0.7, 0.8, 0.9]).tickSize(-5).tickSizeOuter(0)
    .tickPadding(8).tickFormat(d3.format(".1f")));
const xAx = C.append("g").attr("transform", "translate(0,436)")
  .call(d3.axisBottom(xC).tickValues([0.8, 1, 1.2]).tickSize(-5).tickSizeOuter(0)
    .tickPadding(8).tickFormat(d3.format("~g")));
[yAx, xAx].forEach(ax => {
  ax.select(".domain").attr("stroke-width", 2.5);
  ax.selectAll(".tick line").attr("stroke-width", 2);
  ax.selectAll("text").attr("font-family", SANS).attr("font-size", 17).attr("fill", "#222");
});
C.append("text").attr("transform", "translate(933,237) rotate(-90)")
  .attr("text-anchor", "middle").attr("font-family", SANS).attr("font-size", 17).text("Proportion correct");
plainText(C, 1127, 476, "Median response time (s)", 17);

// inset
const xI = d3.scaleLinear().domain([0, 1]).range([988, 1071]);
const yI = d3.scaleLinear().domain([0, 1]).range([102, 44]);
order.forEach(i => {
  const pts = insetSteps.map((s, k) => [s, k === 0 ? insetBefore[i] : insetAfter[i]]);
  C.append("path").attr("fill", "none").attr("stroke", condColor[conditions[i]]).attr("stroke-width", 2.5)
    .attr("d", d3.line().x(d => xI(d[0])).y(d => yI(d[1]))(pts));
});
C.append("path").attr("fill", "none").attr("stroke", "#000").attr("stroke-width", 2.5)
  .attr("d", "M984,41 V107 H1072");
</script>
</body>
</html>
